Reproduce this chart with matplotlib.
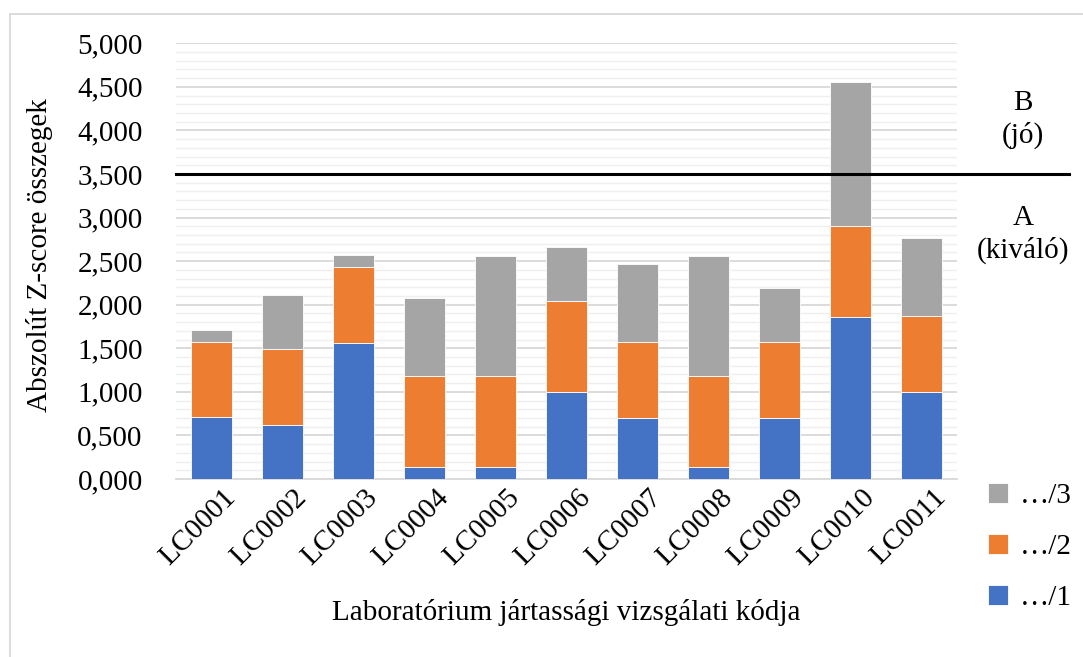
import matplotlib
matplotlib.use("Agg")
import matplotlib.pyplot as plt
from matplotlib.ticker import MultipleLocator, FuncFormatter
from matplotlib.patches import Rectangle
import matplotlib.transforms as mtransforms
import numpy as np

categories = ["LC0001", "LC0002", "LC0003", "LC0004", "LC0005", "LC0006",
              "LC0007", "LC0008", "LC0009", "LC0010", "LC0011"]
s1 = [0.707, 0.620, 1.565, 0.141, 0.141, 1.003, 0.704, 0.141, 0.704, 1.864, 1.003]
s2 = [0.869, 0.869, 0.872, 1.045, 1.045, 1.044, 0.872, 1.045, 0.872, 1.044, 0.872]
s3 = [0.138, 0.620, 0.138, 0.892, 1.371, 0.620, 0.892, 1.371, 0.617, 1.646, 0.892]
series_names = ["…/1", "…/2", "…/3"]
threshold = 3.5

plt.rcParams['font.family'] = ['Liberation Serif', 'DejaVu Serif']
FS = 21

fig = plt.figure(figsize=(10.83, 6.57), dpi=100)
W, H = 1083, 657
ax = fig.add_axes([176 / W, 1 - 479 / H, (957 - 176) / W, (479 - 43.3) / H])

x = np.arange(len(categories))
colors = ["#4472C4", "#ED7D31", "#A5A5A5"]
b1 = ax.bar(x, s1, width=0.57, color=colors[0], edgecolor="white", linewidth=0.6, zorder=3)
bottom2 = np.array(s1)
b2 = ax.bar(x, s2, width=0.57, bottom=bottom2, color=colors[1], edgecolor="white", linewidth=0.6, zorder=3)
bottom3 = bottom2 + np.array(s2)
b3 = ax.bar(x, s3, width=0.57, bottom=bottom3, color=colors[2], edgecolor="white", linewidth=0.6, zorder=3)

ax.set_xlim(-0.5, len(categories) - 0.5)
ax.set_ylim(0, 5)
ax.yaxis.set_major_locator(MultipleLocator(0.5))
ax.yaxis.set_minor_locator(MultipleLocator(0.1))
ax.yaxis.set_major_formatter(FuncFormatter(lambda v, p: f"{v:.3f}".replace(".", ",")))
ax.grid(axis="y", which="major", color="#d9d9d9", linewidth=1.3, zorder=0)
ax.grid(axis="y", which="minor", color="#efefef", linewidth=1.0, zorder=0)
ax.set_axisbelow(True)
for side in ["top", "right", "left"]:
    ax.spines[side].set_visible(False)
ax.spines["bottom"].set_color("#d9d9d9")
ax.spines["bottom"].set_linewidth(1.3)
ax.tick_params(axis="y", which="both", length=0, labelsize=FS, pad=24)
ax.tick_params(axis="x", length=0, labelsize=FS, pad=4)
ax.set_xticks(x)
ax.set_xticklabels(categories, rotation=45, ha="right", rotation_mode="anchor")
offset = mtransforms.ScaledTranslation(11 / 100, 0, fig.dpi_scale_trans)
for lbl in ax.get_xticklabels():
    lbl.set_transform(lbl.get_transform() + offset)

# threshold line extended to the right
trans = mtransforms.blended_transform_factory(ax.transAxes, ax.transData)
ax.plot([0, (1069 - 176) / 781], [threshold, threshold], color="black",
        linewidth=2.2, transform=trans, clip_on=False, zorder=5)

fig.text(1023 / W, 1 - 103 / H, "B", ha="center", va="center", fontsize=FS)
fig.text(1023 / W, 1 - 135 / H, "(jó)", ha="center", va="center", fontsize=FS)
fig.text(1023 / W, 1 - 218 / H, "A", ha="center", va="center", fontsize=FS)
fig.text(1023 / W, 1 - 250 / H, "(kiváló)", ha="center", va="center", fontsize=FS)

fig.text(40 / W, 1 - 255 / H, "Abszolút Z-score összegek", rotation=90,
         ha="center", va="center", fontsize=FS)
fig.text(566 / W, 1 - 612 / H, "Laboratórium jártassági vizsgálati kódja",
         ha="center", va="center", fontsize=FS)

# legend
leg = fig.legend([b3, b2, b1], [series_names[2], series_names[1], series_names[0]],
                 loc="center left", bbox_to_anchor=(988 / W, 1 - 547 / H),
                 frameon=False, fontsize=FS, handlelength=0.7, handleheight=0.7,
                 handletextpad=0.4, labelspacing=0.85, borderpad=0, borderaxespad=0)

# outer chart border
fig.patches.append(Rectangle((9.5 / W, -0.1), 1.2, (1 - 14 / H) + 0.1,
                             transform=fig.transFigure, fill=False,
                             edgecolor="#d9d9d9", linewidth=1.3))

fig.savefig("out.png", dpi=100)
